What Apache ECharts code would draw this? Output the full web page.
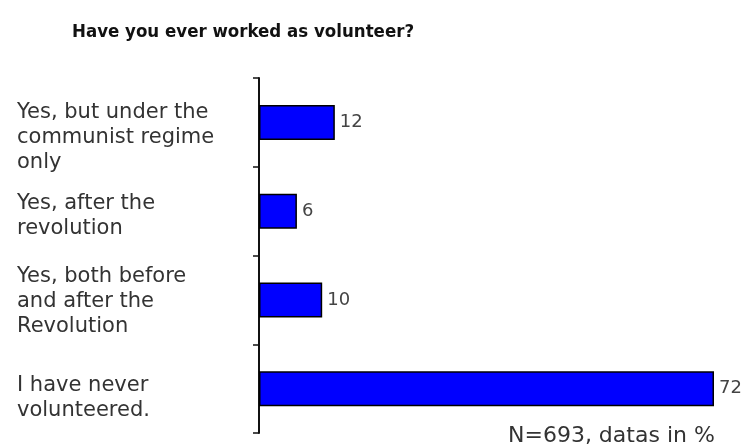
<!DOCTYPE html>
<html>
<head>
<meta charset="utf-8">
<script src="https://cdn.jsdelivr.net/npm/echarts@6/dist/echarts.min.js"></script>
<style>html,body{margin:0;padding:0;background:#fff;}#c{width:748px;height:446px;}</style>
</head>
<body>
<div id="c"></div>
<script>
const titleText = 'Have you ever worked as volunteer?';
const categories = [
  'Yes, but under the\ncommunist regime\nonly',
  'Yes, after the\nrevolution',
  'Yes, both before\nand after the\nRevolution',
  'I have never\nvolunteered.'
];
const values = [12, 6, 10, 72];
const footnote = 'N=693, datas in %';

const labelPad = [30, 10, 4, 18];
const chart = echarts.init(document.getElementById('c'));
chart.setOption({
  backgroundColor: '#fff',
  animation: false,
  title: {
    text: titleText,
    left: 67, top: 18,
    textStyle: {fontFamily: '"Liberation Sans Narrow", "DejaVu Sans Condensed", sans-serif', fontWeight: 'bold', fontSize: 18.5, color: '#111'}
  },
  grid: {left: 259, right: 34, top: 78, bottom: 13, containLabel: false, outerBoundsMode: 'none'},
  xAxis: {type: 'value', min: 0, max: 72, show: false, splitLine: {show: false}},
  yAxis: {
    type: 'category', inverse: true,
    data: categories,
    axisLine: {lineStyle: {color: '#111', width: 2}},
    axisTick: {show: true, length: 6, lineStyle: {color: '#111', width: 1.5}},
    axisLabel: {
      align: 'left', margin: 242, fontSize: 21, lineHeight: 25, color: '#333',
      fontFamily: '"DejaVu Sans", Verdana, sans-serif',
      formatter: (v, i) => '{p' + i + '|' + v.split('\n').join('}\n{p' + i + '|') + '}',
      rich: {
        p0: {fontSize: 21, lineHeight: 25, color: '#333', padding: [labelPad[0], 0, 0, 0]},
        p1: {fontSize: 21, lineHeight: 25, color: '#333', padding: [labelPad[1], 0, 0, 0]},
        p2: {fontSize: 21, lineHeight: 25, color: '#333', padding: [labelPad[2], 0, 0, 0]},
        p3: {fontSize: 21, lineHeight: 25, color: '#333', padding: [labelPad[3], 0, 0, 0]}
      }
    }
  },
  series: [{
    type: 'bar', data: values, barWidth: 35,
    itemStyle: {color: '#0000ff', borderColor: '#000', borderWidth: 1.5},
    label: {show: true, position: 'right', distance: 5, fontSize: 18, color: '#444', fontFamily: '"DejaVu Sans", Verdana, sans-serif'}
  }],
  graphic: [{
    type: 'text', left: 508, top: 425,
    style: {text: footnote, fontSize: 22, fill: '#333', fontFamily: '"DejaVu Sans", Verdana, sans-serif'}
  }]
});
</script>
</body>
</html>
